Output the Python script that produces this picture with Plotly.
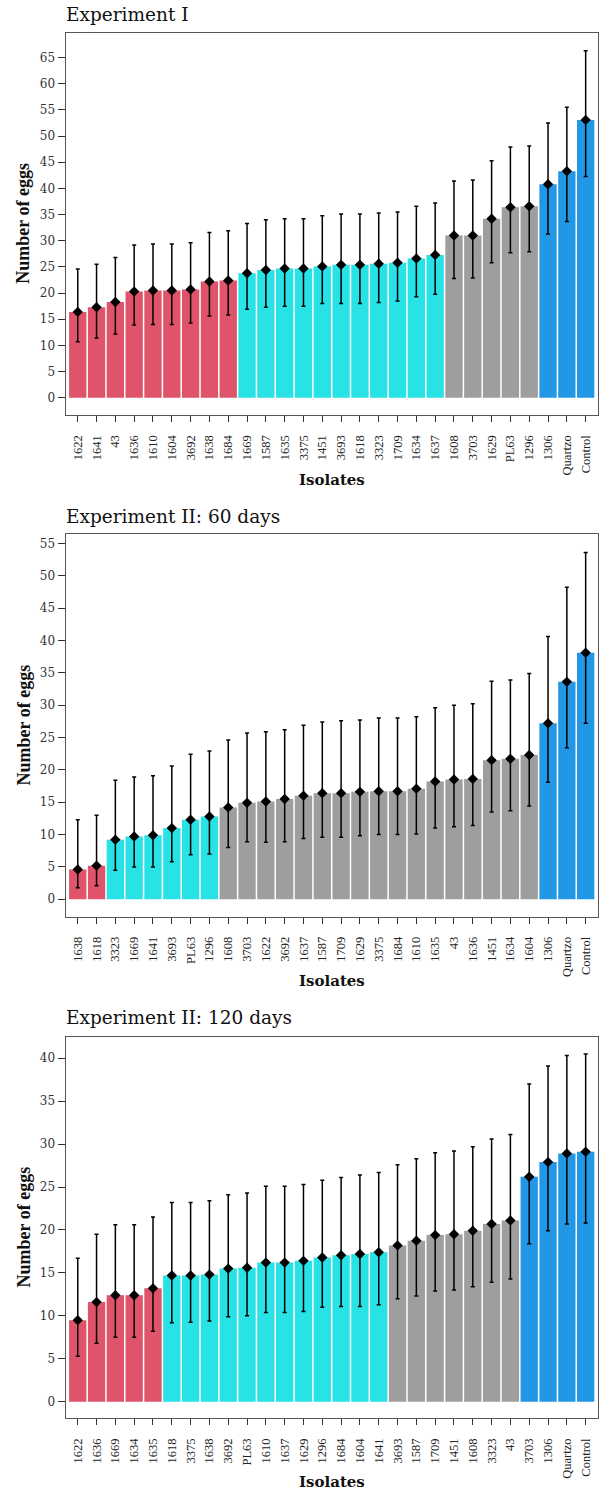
import plotly.graph_objects as go

# ---------------- data ----------------
cats1 = ["1622","1641","43","1636","1610","1604","3692","1638","1684","1669","1587","1635","3375","1451",
         "3693","1618","3323","1709","1634","1637","1608","3703","1629","PL63","1296","1306","Quartzo","Control"]
mean1 = [16.4,17.3,18.3,20.3,20.5,20.5,20.7,22.2,22.4,23.8,24.4,24.7,24.7,25.1,25.4,25.4,25.6,25.8,26.6,27.3,
         31.0,31.0,34.2,36.4,36.6,40.8,43.3,53.1]
low1 = [10.7,11.4,12.2,13.9,14.0,14.0,14.3,15.6,15.8,16.9,17.3,17.5,17.5,18.0,18.0,18.0,18.2,18.5,19.3,19.8,
        22.8,22.9,25.8,27.7,27.9,31.3,33.7,42.3]
up1 = [24.6,25.5,26.8,29.2,29.4,29.4,29.6,31.6,31.9,33.3,34.0,34.2,34.2,34.8,35.1,35.1,35.3,35.5,36.6,37.2,
       41.4,41.6,45.3,47.9,48.1,52.5,55.5,66.3]
grp1 = ["a"]*9 + ["b"]*11 + ["c"]*5 + ["d"]*3

cats2 = ["1638","1618","3323","1669","1641","3693","PL63","1296","1608","3703","1622","3692","1637","1587",
         "1709","1629","3375","1684","1610","1635","43","1636","1451","1634","1604","1306","Quartzo","Control"]
mean2 = [4.6,5.2,9.2,9.7,9.9,11.0,12.3,12.8,14.2,14.9,15.1,15.5,16.0,16.4,16.4,16.6,16.7,16.7,17.1,18.2,
         18.5,18.6,21.5,21.7,22.3,27.2,33.6,38.1]
low2 = [1.8,2.1,4.5,5.0,5.0,5.8,6.9,7.0,8.0,8.9,8.8,8.9,9.4,9.6,9.6,9.8,10.0,10.0,10.1,11.0,11.2,11.4,
        13.5,13.7,14.4,18.1,23.4,27.2]
up2 = [12.3,13.0,18.4,18.9,19.1,20.6,22.4,22.9,24.6,25.7,25.9,26.2,26.9,27.4,27.6,27.7,28.0,28.0,28.2,29.6,
       30.0,30.2,33.7,33.9,34.9,40.6,48.2,53.6]
grp2 = ["a"]*2 + ["b"]*6 + ["c"]*17 + ["d"]*3

cats3 = ["1622","1636","1669","1634","1635","1618","3375","1638","3692","PL63","1610","1637","1629","1296",
         "1684","1604","1641","3693","1587","1709","1451","1608","3323","43","3703","1306","Quartzo","Control"]
mean3 = [9.5,11.6,12.4,12.4,13.2,14.7,14.7,14.8,15.5,15.6,16.2,16.2,16.4,16.8,17.05,17.2,17.4,18.2,18.75,
         19.4,19.5,19.9,20.7,21.1,26.2,27.9,28.9,29.1]
low3 = [5.3,6.8,7.5,7.5,8.2,9.2,9.25,9.4,9.9,10.0,10.4,10.4,10.5,11.0,11.1,11.1,11.3,12.0,12.3,12.9,13.0,
        13.4,13.9,14.3,18.4,19.9,20.7,20.8]
up3 = [16.7,19.5,20.6,20.6,21.5,23.2,23.2,23.4,24.1,24.3,25.1,25.1,25.3,25.8,26.1,26.4,26.7,27.6,28.3,29.0,
       29.2,29.7,30.6,31.1,37.0,39.1,40.3,40.5]
grp3 = ["a"]*5 + ["b"]*12 + ["c"]*7 + ["d"]*4

titles = ["Experiment I", "Experiment II: 60 days", "Experiment II: 120 days"]
ytickmax = [65, 55, 40]
yranges = [[-3.3, 69.8], [-2.69, 56.4], [-1.93, 42.5]]

group_colors = {"a": "#DF536B", "b": "#28E2E5", "c": "#9E9E9E", "d": "#2297E6"}

# ---------------- layout geometry (pixels) ----------------
W, H = 600, 1495
box_left, box_right = 65.7, 597.7
boxes = [(32.5, 415.0), (534.3, 916.7), (1036.7, 1418.3)]
title_y = [14.5, 516.0, 1017.5]
xtitle_y = [480.0, 981.0, 1482.0]

def py(p):
    return 1 - p / H

fig = go.Figure()
panels = [(cats1, mean1, low1, up1, grp1), (cats2, mean2, low2, up2, grp2), (cats3, mean3, low3, up3, grp3)]

annotations = []
for i, (cats, mean, low, up, grp) in enumerate(panels):
    n = i + 1
    xa = "x" if n == 1 else f"x{n}"
    ya = "y" if n == 1 else f"y{n}"
    fig.add_trace(go.Bar(
        x=cats, y=mean, xaxis=xa, yaxis=ya,
        marker=dict(color=[group_colors[g] for g in grp], line=dict(width=0)),
        showlegend=False, hoverinfo="x+y",
    ))
    fig.add_trace(go.Scatter(
        x=cats, y=mean, xaxis=xa, yaxis=ya, mode="markers",
        marker=dict(symbol="diamond", size=8, color="black"),
        error_y=dict(type="data", symmetric=False,
                     array=[u - m for u, m in zip(up, mean)],
                     arrayminus=[m - l for m, l in zip(mean, low)],
                     color="black", thickness=1.5, width=2),
        showlegend=False,
    ))
    top, bot = boxes[i]
    axis_common = dict(showline=True, mirror=True, linecolor="#555555", linewidth=1.3,
                       ticks="outside", tickcolor="#333333", showgrid=False, zeroline=False)
    xkey = "xaxis" if n == 1 else f"xaxis{n}"
    ykey = "yaxis" if n == 1 else f"yaxis{n}"
    fig.update_layout(**{
        xkey: dict(axis_common, domain=[box_left / W, box_right / W], anchor=ya,
                   type="category", range=[-0.64, len(cats) - 1 + 0.64],
                   tickangle=-90, ticklen=6, ticklabelstandoff=8,
                   tickfont=dict(family="Liberation Serif", size=12.5, color="#222222")),
        ykey: dict(axis_common, domain=[py(bot), py(top)], anchor=xa,
                   range=yranges[i], tickmode="array",
                   tickvals=list(range(0, ytickmax[i] + 1, 5)),
                   ticklen=7,
                   tickfont=dict(family="DejaVu Serif", size=12, color="#333333")),
    })
    annotations.append(dict(text=titles[i], xref="paper", yref="paper", x=64 / W, y=py(title_y[i]),
                            xanchor="left", yanchor="middle", showarrow=False,
                            font=dict(family="DejaVu Serif", size=18.5, color="#111111")))
    annotations.append(dict(text="<b>Isolates</b>", xref="paper", yref="paper",
                            x=(box_left + box_right) / 2 / W, y=py(xtitle_y[i]),
                            xanchor="center", yanchor="middle", showarrow=False,
                            font=dict(family="DejaVu Serif", size=15, color="#111111")))
    annotations.append(dict(text="<b>Number of eggs</b>", xref="paper", yref="paper",
                            x=23 / W, y=py((top + bot) / 2), textangle=-90,
                            xanchor="center", yanchor="middle", showarrow=False,
                            font=dict(family="Liberation Serif", size=18, color="#111111")))

fig.update_layout(
    width=W, height=H, autosize=False,
    margin=dict(l=0, r=0, t=0, b=0),
    paper_bgcolor="white", plot_bgcolor="white",
    bargap=0.08,
    annotations=annotations,
    showlegend=False,
)

fig.write_html("out.html")
